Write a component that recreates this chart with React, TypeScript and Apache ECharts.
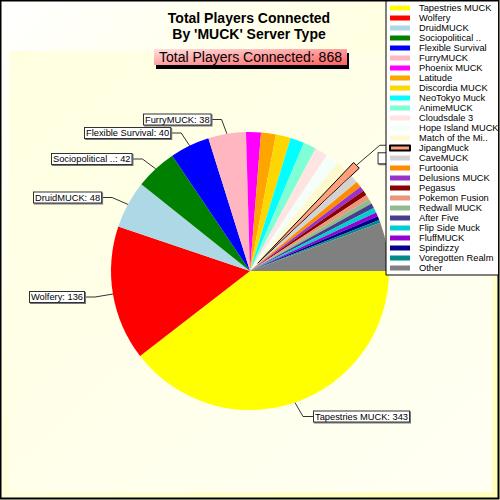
import React, { useEffect, useRef } from "react";
import * as echarts from "echarts";

const names = ["Tapestries MUCK","Wolfery","DruidMUCK","Sociopolitical ..","Flexible Survival","FurryMUCK","Phoenix MUCK","Latitude","Discordia MUCK","NeoTokyo Muck","AnimeMUCK","Cloudsdale 3","Hope Island MUCK","Match of the Mi..","JipangMuck","CaveMUCK","Furtoonia","Delusions MUCK","Pegasus","Pokemon Fusion","Redwall MUCK","After Five","Flip Side Muck","FluffMUCK","Spindizzy","Voregotten Realm","Other"];
const values = [343,136,48,42,40,38,15,15,15,14,13,13,13,11,8,8,6,5,5,5,5,5,5,4,4,3,49];
const colors = ["#ffff00","#ff0000","#add8e6","#008000","#0000ff","#ffb6c1","#ff00ff","#ffa500","#ffd700","#00ffff","#7fffd4","#ffe4e1","#f5fffa","#fffacd","#ffa07a","#d3d3d3","#ff8c00","#9932cc","#8b0000","#e9967a","#8fbc8f","#483d8b","#00ced1","#9400d3","#00008b","#008b8b","#808080"];
const labelled: Record<string, number[]> = {
  "Tapestries MUCK": [314, 416.5],
  "Wolfery": [30, 297],
  "DruidMUCK": [34, 197.5],
  "Sociopolitical ..": [52, 159],
  "Flexible Survival": [85, 133],
  "FurryMUCK": [144, 119.5],
  "JipangMuck": [383, 153],
};
const title = "Total Players Connected\nBy 'MUCK' Server Type";
const subtitle = "Total Players Connected: 868";

export default function App() {
  const ref = useRef<HTMLDivElement>(null);
  useEffect(() => {
    document.body.style.margin = "0";
    const chart = echarts.init(ref.current!, undefined, { renderer: "svg" });
    const font = "Liberation Sans";
    chart.setOption({
      animation: false,
      backgroundColor: new echarts.graphic.LinearGradient(0, 0, 1, 1, [
        { offset: 0, color: "#ffffff" },
        { offset: 1, color: "#ffffb8" },
      ]),
      title: {
        text: title,
        left: 244,
        top: 5,
        textAlign: "center",
        textStyle: { fontFamily: font, fontSize: 14, fontWeight: "bold", color: "#000", lineHeight: 16 },
      },
      legend: {
        orient: "vertical",
        left: 386,
        top: 1,
        width: 111,
        padding: [2, 0, 2, 3],
        itemWidth: 20,
        itemHeight: 5,
        itemGap: 0,
        selectedMode: false,
        borderColor: "#000",
        borderWidth: 1,
        backgroundColor: "#fff",
        icon: "rect",
        data: names,
        textStyle: { fontFamily: font, fontSize: 9.3, color: "#000", lineHeight: 10, padding: [0, 0, 0, 4] },
      },
      graphic: [
        { type: "rect", z: 0, shape: { x: 9, y: 51, width: 483, height: 441 }, style: { fill: new echarts.graphic.LinearGradient(0, 0, 1, 1, [{ offset: 0, color: "#ffffe0" }, { offset: 1, color: "#fffff4" }]) } },
        { type: "rect", z: 1, shape: { x: 0.5, y: 0.5, width: 498, height: 498 }, style: { fill: "none", stroke: "#000", lineWidth: 2 } },
        { type: "rect", z: 3, shape: { x: 156, y: 53, width: 193, height: 16 }, style: { fill: "#000" } },
        { type: "rect", z: 3, shape: { x: 154, y: 49, width: 193, height: 16 }, style: { fill: new echarts.graphic.LinearGradient(0, 0, 1, 1, [{ offset: 0, color: "#ffe0e0" }, { offset: 1, color: "#ff6060" }]) } },
        { type: "text", z: 3, x: 250.5, y: 57, style: { text: subtitle, fontFamily: font, fontSize: 14, fill: "#000", align: "center", verticalAlign: "middle" } },
      ],
      series: [
        {
          type: "pie",
          center: [250, 271],
          radius: 139,
          startAngle: 0,
          clockwise: true,
          selectedMode: "single",
          selectedOffset: 11,
          avoidLabelOverlap: false,
          emphasis: { disabled: true },
          label: {
            formatter: "{b}: {c}",
            fontFamily: font,
            fontSize: 9.3,
            color: "#000",
            lineHeight: 10,
            backgroundColor: "#fff",
            borderColor: "#333",
            borderWidth: 1,
            padding: [0, 1],
            shadowColor: "#777",
            shadowBlur: 1,
            shadowOffsetX: 1,
            shadowOffsetY: 1,
          },
          labelLine: { lineStyle: { color: "#333", width: 1 }, length: 10, length2: 10 },
          labelLayout: (p: any) => {
            const pos = labelled[names[p.dataIndex]];
            return pos ? { x: pos[0], y: pos[1], align: "left", verticalAlign: "middle" } : {};
          },
          data: names.map((name, i) => {
            const shown = name in labelled;
            const exploded = name === "JipangMuck";
            return {
              name,
              value: values[i],
              selected: exploded,
              itemStyle: exploded ? { color: colors[i], borderColor: "#000", borderWidth: 1 } : { color: colors[i] },
              select: exploded ? { itemStyle: { color: colors[i], borderColor: "#000", borderWidth: 1 } } : undefined,
              label: exploded ? { show: shown, formatter: "  ", padding: [0, 6] } : { show: shown },
              labelLine: { show: shown },
            };
          }),
        },
      ],
    });
    return () => chart.dispose();
  }, []);
  return <div ref={ref} style={{ width: 500, height: 500 }} />;
}
